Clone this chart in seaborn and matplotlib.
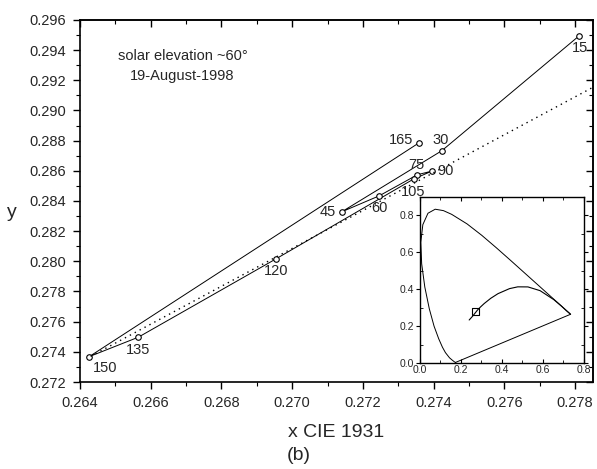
import numpy as np
import pandas as pd
import matplotlib
matplotlib.use("Agg")
import matplotlib.pyplot as plt
from matplotlib.ticker import MultipleLocator, NullFormatter
import seaborn as sns

# ---- data ----
angles = [15, 30, 45, 60, 75, 90, 105, 120, 135, 150, 165]
x_vals = [0.27811, 0.27423, 0.27140, 0.27246, 0.27354, 0.27395, 0.27343,
          0.26954, 0.26565, 0.26426, 0.27359]
y_vals = [0.29494, 0.28733, 0.28328, 0.28434, 0.28574, 0.28598, 0.28545,
          0.28016, 0.27497, 0.27368, 0.28786]

# dotted reference line (Planckian locus segment)
dot_x = [0.26430, 0.27850]
dot_y = [0.27370, 0.29153]

# inset: CIE 1931 spectral locus (closed with purple line)
locus_x = [0.1741, 0.1733, 0.1714, 0.1644, 0.1566, 0.1440, 0.1241, 0.1096,
           0.0913, 0.0687, 0.0454, 0.0235, 0.0082, 0.0039, 0.0139, 0.0389,
           0.0743, 0.1142, 0.1547, 0.2296, 0.3016, 0.3731, 0.4441, 0.5125,
           0.5752, 0.6270, 0.6915, 0.7190, 0.7347, 0.1741]
locus_y = [0.0050, 0.0048, 0.0051, 0.0109, 0.0177, 0.0297, 0.0578, 0.0868,
           0.1327, 0.2007, 0.2950, 0.4127, 0.5384, 0.6548, 0.7502, 0.8120,
           0.8338, 0.8262, 0.8059, 0.7543, 0.6923, 0.6245, 0.5547, 0.4866,
           0.4242, 0.3725, 0.3083, 0.2809, 0.2653, 0.0050]
# inset: Planckian locus
planck_x = [0.2399, 0.2568, 0.2807, 0.2952, 0.3135, 0.3451, 0.3805, 0.4369,
            0.4770, 0.5266, 0.5857, 0.6528, 0.6898, 0.7140, 0.7347]
planck_y = [0.2342, 0.2550, 0.2883, 0.3048, 0.3236, 0.3516, 0.3768, 0.4041,
            0.4137, 0.4133, 0.3931, 0.3444, 0.3097, 0.2848, 0.2653]
box_x = [0.271]
box_y = [0.280]

main_xlim = (0.264, 0.2785)
main_ylim = (0.272, 0.296)
xticks = [0.264, 0.266, 0.268, 0.270, 0.272, 0.274, 0.276, 0.278]
yticks = [0.272, 0.274, 0.276, 0.278, 0.280, 0.282, 0.284, 0.286, 0.288,
          0.290, 0.292, 0.294, 0.296]
inset_ticks = [0.0, 0.2, 0.4, 0.6, 0.8]

sns.set_theme(style="ticks")
plt.rcParams['font.family'] = ['Liberation Sans', 'DejaVu Sans']

fig = plt.figure(figsize=(5.97, 4.69), dpi=100)
ax = fig.add_axes([0.134, 0.1855, 0.859, 0.772])

df = pd.DataFrame({"angle": angles, "x": x_vals, "y": y_vals})
sns.lineplot(data=df, x="x", y="y", sort=False, estimator=None, ax=ax,
             color="black", lw=0.7, marker="o", markersize=4,
             markerfacecolor="white", markeredgecolor="black",
             markeredgewidth=0.8)
sns.lineplot(x=dot_x, y=dot_y, ax=ax, color="black", lw=1.0,
             linestyle=(0, (1, 3)), estimator=None, sort=False)

# point labels: offsets in points
offsets = {15: (1, -9, 'center'), 30: (-1, 8, 'center'), 45: (-4, 0, 'right'),
           60: (0, -9, 'center'), 75: (-1, 7, 'center'),
           90: (4, 0, 'left'), 105: (0, -9, 'center'), 120: (0, -9, 'center'),
           135: (0, -9, 'center'), 150: (3, -8, 'left'), 165: (-4, 2, 'right')}
for a, xv, yv in zip(angles, x_vals, y_vals):
    dx, dy, ha = offsets[a]
    ax.annotate(str(a), (xv, yv), xytext=(dx, dy), textcoords="offset points",
                ha=ha, va="center", fontsize=10.5)

ax.text(0.2, 0.873, "solar elevation ~60°\n19-August-1998",
        transform=ax.transAxes, ha="center", va="center", fontsize=10.5,
        linespacing=1.55)

ax.set_xlim(*main_xlim)
ax.set_ylim(*main_ylim)
ax.set_xticks(xticks)
ax.set_yticks(yticks)
ax.set_xticklabels([f"{v:.3f}" for v in xticks])
ax.set_yticklabels([f"{v:.3f}" for v in yticks])
ax.xaxis.set_minor_locator(MultipleLocator(0.001))
ax.yaxis.set_minor_locator(MultipleLocator(0.001))
ax.tick_params(which="major", direction="out", length=5, width=1,
               labelsize=10.5, pad=5, color="black")
ax.tick_params(which="minor", direction="out", length=3, width=0.8,
               color="black")
for s in ax.spines.values():
    s.set_linewidth(1.2)
    s.set_color("black")

# top/right inward ticks without labels
secx = ax.secondary_xaxis("top")
secx.set_xticks(xticks)
secx.xaxis.set_major_formatter(NullFormatter())
secx.xaxis.set_minor_locator(MultipleLocator(0.001))
secx.xaxis.set_minor_formatter(NullFormatter())
secx.tick_params(which="major", direction="in", length=5, width=1,
                 color="black")
secx.tick_params(which="minor", direction="in", length=3, width=0.8,
                 color="black")
secy = ax.secondary_yaxis("right")
secy.set_yticks(yticks)
secy.yaxis.set_major_formatter(NullFormatter())
secy.yaxis.set_minor_locator(MultipleLocator(0.001))
secy.yaxis.set_minor_formatter(NullFormatter())
secy.tick_params(which="major", direction="in", length=5, width=1,
                 color="black")
secy.tick_params(which="minor", direction="in", length=3, width=0.8,
                 color="black")

ax.set_xlabel("x CIE 1931", fontsize=14, labelpad=10)
ax.set_ylabel("y", fontsize=14, rotation=0, va="center")
ax.yaxis.set_label_coords(-0.133, 0.467)

fig.text(0.5, 0.028, "(b)", ha="center", va="center", fontsize=14)

# ---- inset ----
axi = fig.add_axes([0.7035, 0.2254, 0.2747, 0.3546])
sns.lineplot(x=locus_x, y=locus_y, sort=False, estimator=None, ax=axi,
             color="black", lw=0.7)
sns.lineplot(x=planck_x, y=planck_y, sort=False, estimator=None, ax=axi,
             color="black", lw=0.8)
sns.scatterplot(x=box_x, y=box_y, ax=axi, marker="s", s=30,
                facecolor="none", edgecolor="black", linewidth=0.8)
axi.set_xlim(0, 0.8)
axi.set_ylim(0, 0.9)
axi.set_xticks(inset_ticks)
axi.set_yticks(inset_ticks)
axi.set_xticklabels([f"{v:.1f}" for v in inset_ticks])
axi.set_yticklabels([f"{v:.1f}" for v in inset_ticks])
axi.xaxis.set_minor_locator(MultipleLocator(0.1))
axi.yaxis.set_minor_locator(MultipleLocator(0.1))
axi.tick_params(which="major", direction="in", length=3, width=0.8,
                labelsize=7.5, pad=1, top=True, right=True, color="black")
axi.tick_params(which="minor", direction="in", length=2, width=0.6,
                top=True, right=True, color="black")
axi.tick_params(axis="y", which="major", direction="out")
axi.set_xlabel("")
axi.set_ylabel("")
for s in axi.spines.values():
    s.set_linewidth(1.0)
    s.set_color("black")

fig.savefig("out.png", dpi=100)
